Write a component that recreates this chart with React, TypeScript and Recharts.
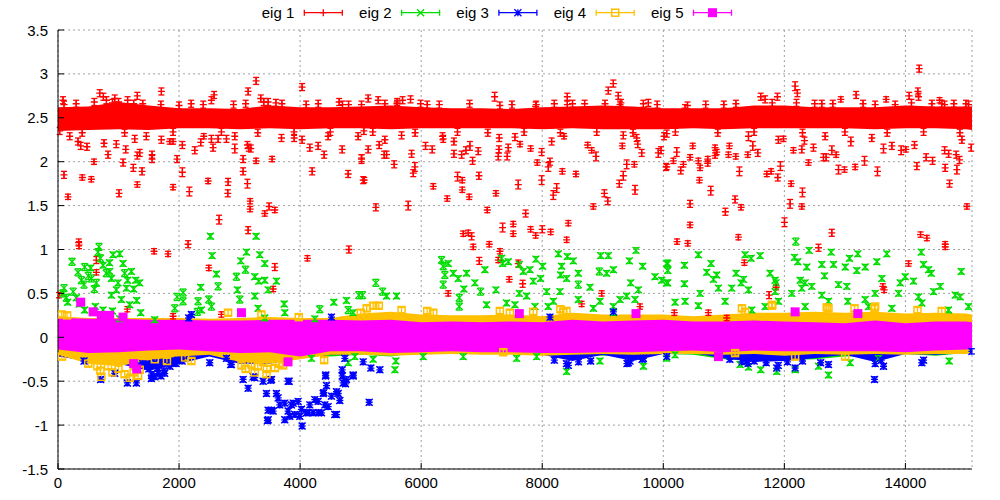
import React from 'react';
import { ComposedChart, Area, Scatter, ErrorBar, XAxis, YAxis, CartesianGrid } from 'recharts';

// ---------- axis ticks & names ----------
const xTicks = [0, 2000, 4000, 6000, 8000, 10000, 12000, 14000];
const yTicks = [-1.5, -1, -0.5, 0, 0.5, 1, 1.5, 2, 2.5, 3, 3.5];
const seriesNames = ['eig 1', 'eig 2', 'eig 3', 'eig 4', 'eig 5'];

// ---------- dense band envelopes ----------
const bandX = [0, 500, 1000, 1500, 2000, 2500, 3000, 3500, 4000, 4500, 5000, 5500, 6000, 6500, 7000, 7500, 8000, 8500, 9000, 9500, 10000, 10500, 11000, 11500, 12000, 12500, 13000, 13500, 14000, 14500, 15000, 15100];
const eig1Lo = [2.35, 2.36, 2.37, 2.36, 2.38, 2.38, 2.37, 2.38, 2.37, 2.38, 2.38, 2.37, 2.38, 2.38, 2.38, 2.38, 2.37, 2.38, 2.37, 2.37, 2.37, 2.38, 2.37, 2.38, 2.38, 2.38, 2.38, 2.37, 2.38, 2.38, 2.37, 2.36];
const eig1Hi = [2.62, 2.63, 2.68, 2.64, 2.61, 2.61, 2.60, 2.64, 2.62, 2.62, 2.63, 2.64, 2.62, 2.61, 2.61, 2.60, 2.62, 2.63, 2.64, 2.63, 2.61, 2.61, 2.61, 2.64, 2.64, 2.62, 2.62, 2.62, 2.64, 2.63, 2.63, 2.63];
const eig2Lo = [-0.17, -0.17, -0.17, -0.17, -0.18, -0.17, -0.17, -0.17, -0.20, -0.22, -0.20, -0.22, -0.17, -0.17, -0.18, -0.19, -0.18, -0.20, -0.21, -0.20, -0.19, -0.20, -0.25, -0.27, -0.26, -0.25, -0.22, -0.21, -0.19, -0.21, -0.18, -0.17];
const eig2Hi = [0.15, 0.15, 0.15, 0.15, 0.15, 0.15, 0.15, 0.15, 0.15, 0.15, 0.15, 0.15, 0.15, 0.15, 0.15, 0.15, 0.15, 0.15, 0.15, 0.15, 0.15, 0.15, 0.15, 0.15, 0.15, 0.15, 0.15, 0.15, 0.15, 0.15, 0.15, 0.15];
const eig3Lo = [-0.22, -0.27, -0.30, -0.38, -0.30, -0.22, -0.30, -0.30, -0.24, -0.20, -0.19, -0.19, -0.18, -0.18, -0.18, -0.19, -0.20, -0.27, -0.20, -0.27, -0.19, -0.18, -0.24, -0.28, -0.27, -0.24, -0.20, -0.28, -0.19, -0.20, -0.18, -0.17];
const eig3Hi = [0.10, 0.10, 0.10, 0.10, 0.10, 0.10, 0.10, 0.10, 0.10, 0.10, 0.10, 0.10, 0.10, 0.10, 0.10, 0.10, 0.10, 0.10, 0.10, 0.10, 0.10, 0.10, 0.10, 0.10, 0.10, 0.10, 0.10, 0.10, 0.10, 0.10, 0.10, 0.10];
const eig4Lo = [-0.20, -0.30, -0.33, -0.26, -0.22, -0.20, -0.28, -0.30, -0.25, -0.20, -0.20, -0.21, -0.20, -0.19, -0.20, -0.20, -0.21, -0.20, -0.19, -0.20, -0.19, -0.19, -0.20, -0.19, -0.21, -0.19, -0.20, -0.19, -0.20, -0.19, -0.19, -0.18];
const eig4Hi = [0.24, 0.22, 0.22, 0.22, 0.22, 0.21, 0.22, 0.23, 0.22, 0.22, 0.27, 0.29, 0.26, 0.25, 0.25, 0.26, 0.24, 0.28, 0.26, 0.26, 0.26, 0.24, 0.26, 0.28, 0.28, 0.29, 0.28, 0.29, 0.27, 0.28, 0.27, 0.26];
const eig5Lo = [-0.14, -0.18, -0.17, -0.15, -0.14, -0.16, -0.18, -0.17, -0.22, -0.16, -0.16, -0.18, -0.17, -0.16, -0.17, -0.17, -0.18, -0.18, -0.17, -0.17, -0.16, -0.15, -0.17, -0.15, -0.16, -0.16, -0.16, -0.16, -0.17, -0.15, -0.14, -0.14];
const eig5Hi = [0.22, 0.21, 0.21, 0.20, 0.20, 0.19, 0.19, 0.20, 0.20, 0.20, 0.19, 0.20, 0.17, 0.18, 0.17, 0.18, 0.17, 0.20, 0.18, 0.19, 0.20, 0.18, 0.18, 0.19, 0.18, 0.17, 0.16, 0.19, 0.16, 0.18, 0.18, 0.17];

// ---------- individual points [x, y, err] ----------
const eig1Pts = [
  [83, 2.70, .04], [600, 2.68, .04], [689, 2.78, .04], [750, 2.74, .04], [800, 2.70, .04], [937, 2.72, .04], [1000, 2.68, .04], [1150, 2.70, .04], [1250, 2.66, .04], [1311, 2.75, .04], [1708, 2.80, .04], [2535, 2.70, .04], [2579, 2.76, .04], [3141, 2.80, .04], [3273, 2.92, .04], [3350, 2.72, .04], [3400, 2.68, .04], [3471, 2.68, .04], [4033, 2.85, .04], [4645, 2.68, .04], [5014, 2.65, .04],
  [5125, 2.72, .04], [5290, 2.70, .04], [5604, 2.68, .04], [5692, 2.70, .04], [5824, 2.71, .04], [5990, 2.66, .04], [7213, 2.74, .05], [7891, 2.63, .05], [8414, 2.74, .04], [8414, 2.65, .04], [9037, 2.66, .04], [9092, 2.81, .04], [9175, 2.89, .04], [9257, 2.75, .04], [9285, 2.65, .04], [9671, 2.66, .04], [9753, 2.67, .04],
  [10360, 2.61, .04], [11610, 2.74, .04], [11682, 2.71, .04], [11886, 2.74, .04], [12178, 2.86, .05], [12216, 2.78, .04], [12619, 2.66, .04], [12933, 2.71, .03], [13186, 2.76, .04], [13682, 2.71, .03], [13831, 2.65, .04], [14062, 2.75, .04], [14206, 2.80, .04], [14217, 2.74, .04], [14228, 3.06, .04], [14437, 2.66, .04], [14564, 2.70, .03], [14647, 2.65, .04], [15043, 2.65, .04],
  [300, 2.66, .04], [1700, 2.65, .04], [2200, 2.66, .04], [2900, 2.65, .04], [3700, 2.66, .04], [4300, 2.66, .04], [4800, 2.65, .04], [5400, 2.66, .04], [6300, 2.65, .04], [6800, 2.66, .04], [7500, 2.65, .04], [8200, 2.66, .04], [8700, 2.66, .04], [9900, 2.65, .04], [10700, 2.65, .04], [11200, 2.66, .04], [12500, 2.66, .04], [13300, 2.66, .04], [14800, 2.66, .04],
  [100, 2.65, .04], [900, 2.67, .04], [1400, 2.66, .04], [2000, 2.64, .04], [2400, 2.65, .04], [3100, 2.66, .04], [3600, 2.67, .04], [4100, 2.65, .04], [4700, 2.65, .04], [5600, 2.66, .04], [6100, 2.65, .04], [7300, 2.64, .04], [7900, 2.65, .04], [8500, 2.66, .04], [9300, 2.67, .04], [10400, 2.64, .04], [11000, 2.65, .04], [11800, 2.67, .04], [12200, 2.67, .04], [12800, 2.66, .04], [13500, 2.65, .04], [14100, 2.67, .04], [14600, 2.66, .04], [15000, 2.66, .04],
  [400, 2.33, .04], [1100, 2.33, .04], [1900, 2.34, .04], [2700, 2.34, .04], [3300, 2.33, .04], [3900, 2.34, .04], [4500, 2.34, .04], [5200, 2.34, .04], [5900, 2.33, .04], [6600, 2.34, .04], [7100, 2.33, .04], [7700, 2.34, .04], [8300, 2.33, .04], [8900, 2.34, .04], [9500, 2.33, .04], [10200, 2.34, .04], [10900, 2.33, .04], [11500, 2.34, .04], [12300, 2.33, .04], [13000, 2.34, .04], [13700, 2.33, .04], [14300, 2.34, .04], [14900, 2.33, .04],
  [28, 2.35, .04], [193, 2.29, .04], [331, 2.23, .04], [375, 2.18, .04], [479, 2.17, .04], [760, 2.21, .04], [827, 2.08, .04], [595, 2.00, .03], [964, 2.20, .04], [1119, 2.14, .04], [1075, 1.99, .04], [1267, 2.26, .04], [1311, 2.07, .04], [1350, 2.10, .04], [1245, 1.93, .04], [1389, 1.89, .04], [1460, 2.29, .04], [1554, 2.08, .04], [1554, 2.03, .04], [1708, 2.25, .04], [1846, 2.23, .03], [1901, 2.23, .03], [1967, 2.03, .04], [2055, 2.19, .04], [2055, 1.88, .05], [2259, 2.13, .04], [2358, 2.22, .04], [2408, 2.29, .03], [2562, 2.16, .04], [2535, 2.26, .04], [2645, 2.26, .04], [2783, 2.26, .04], [2920, 2.15, .05], [2920, 2.29, .04], [3130, 2.19, .04], [3152, 2.16, .04], [3185, 2.15, .04], [3058, 2.03, .04], [3273, 2.01, .03], [3537, 2.03, .03], [3058, 1.89, .04], [3130, 1.75, .05], [2810, 1.77, .04], [2805, 1.64, .04], [2480, 1.78, .03], [2171, 1.66, .05], [1901, 1.71, .03], [1311, 1.74, .03], [1008, 1.64, .04], [551, 1.80, .03], [402, 1.82, .03], [99, 1.85, .04], [165, 1.60, .03], [3174, 1.55, .03], [3174, 1.46, .03], [3416, 1.41, .03], [3488, 1.49, .04], [3582, 1.45, .03], [2661, 1.34, .05], [3141, 1.22, .04], [342, 1.08, .04], [2149, 1.06, .04], [3692, 2.27, .04], [3901, 2.27, .04], [4033, 2.25, .04], [4160, 2.16, .04], [4298, 2.18, .04], [4397, 2.08, .04], [4199, 1.89, .04], [4695, 2.14, .04], [4794, 1.86, .04], [5014, 2.03, .05], [5042, 1.79, .04], [4959, 2.29, .04], [4463, 2.29, .04],
  [5053, 2.35, .04], [5125, 2.14, .04], [5015, 2.04, .04], [5307, 2.19, .04], [5400, 2.25, .04], [5389, 2.08, .04], [5428, 2.08, .04], [5676, 2.30, .04], [5554, 1.97, .04], [5841, 2.09, .04], [5896, 1.94, .05], [5869, 1.87, .04], [5059, 1.79, .03], [6072, 2.18, .04], [6183, 2.14, .04], [6353, 2.29, .04], [6364, 2.26, .04], [6199, 1.72, .03], [6541, 2.23, .04], [6541, 2.09, .04], [6668, 2.08, .04], [6739, 2.13, .04], [6805, 2.18, .05], [6943, 2.12, .04], [6849, 2.01, .04], [6601, 1.83, .05], [6679, 1.79, .03], [6679, 1.68, .03], [6794, 1.60, .03], [6431, 1.58, .03], [6954, 1.84, .04], [7290, 2.27, .04], [7285, 2.14, .04], [7274, 2.06, .04], [7439, 2.16, .04], [7422, 2.06, .04], [7549, 2.28, .04], [7632, 2.20, .03], [7808, 2.15, .03], [7918, 1.99, .03], [7990, 2.11, .04], [7990, 1.79, .05], [8100, 1.94, .05], [8128, 2.00, .04], [8155, 2.23, .04], [7604, 1.74, .05], [7235, 1.64, .03], [5251, 1.48, .04], [5786, 1.50, .05], [7092, 1.45, .03], [7725, 1.41, .04], [7345, 1.25, .05], [7521, 1.29, .03], [7521, 1.18, .03], [7808, 1.23, .03], [7891, 1.16, .03], [8001, 1.23, .04], [8139, 1.20, .03], [8431, 1.30, .03], [8403, 1.11, .03], [6695, 1.18, .03], [6778, 1.19, .03], [6833, 1.15, .04], [7125, 1.06, .03], [8238, 1.70, .05], [8183, 1.62, .05], [8332, 1.89, .03], [8557, 1.86, .03], [8750, 2.19, .03], [8816, 2.13, .03], [8888, 2.06, .05], [8359, 2.29, .03], [9323, 2.18, .03], [9340, 2.30, .04], [9560, 2.27, .04], [9577, 2.20, .04], [9643, 2.10, .04], [9395, 1.97, .05], [9522, 1.97, .03], [9340, 1.84, .05], [9274, 1.75, .04], [9533, 1.68, .05], [9027, 1.64, .04], [9082, 1.55, .04], [8844, 1.49, .03], [9918, 2.10, .05], [9962, 2.13, .04], [10045, 1.94, .04], [10012, 2.29, .04],
  [10057, 2.32, .04], [10057, 1.94, .03], [10167, 2.01, .03], [10222, 2.11, .05], [10288, 1.90, .04], [10332, 1.97, .03], [10442, 2.05, .03], [10442, 1.52, .04], [10442, 1.28, .03], [10486, 2.18, .03], [10580, 2.01, .03], [10608, 1.93, .03], [10597, 1.79, .03], [10734, 2.03, .03], [10734, 1.98, .03], [10784, 1.67, .05], [10855, 2.16, .03], [10883, 2.11, .03], [10855, 2.07, .03], [11076, 2.08, .03], [11092, 2.18, .03], [11026, 1.43, .04], [11197, 2.06, .03], [11186, 1.57, .04], [11258, 1.89, .05], [11285, 1.48, .03], [11395, 2.08, .03], [11407, 2.29, .05], [11478, 2.18, .05], [11561, 2.10, .04], [11710, 1.86, .03], [11781, 1.89, .03], [11891, 1.82, .04], [11902, 2.25, .04], [11935, 1.95, .05], [11985, 2.26, .03], [12112, 1.75, .03], [12095, 1.52, .05], [12002, 1.31, .05], [12150, 2.13, .03], [12288, 2.14, .04], [12288, 1.49, .03], [12299, 1.65, .05], [12332, 2.24, .04], [12398, 1.99, .03], [12481, 2.16, .04], [12646, 2.05, .04], [12690, 2.05, .04], [12674, 2.29, .04], [12784, 2.13, .05], [12856, 2.08, .03], [12894, 1.91, .05], [12993, 1.91, .03], [13098, 2.23, .05], [13170, 1.94, .03], [13324, 2.01, .05], [13445, 2.27, .04], [13539, 1.89, .05], [13638, 2.15, .05], [13776, 2.18, .04], [13930, 2.13, .05], [14007, 2.14, .03], [14150, 2.19, .04], [14189, 1.95, .04], [14343, 2.05, .04], [14448, 2.01, .04], [14657, 1.93, .04], [14647, 2.13, .04], [14713, 2.09, .04], [14729, 1.75, .04], [14839, 2.08, .04], [14850, 1.91, .05], [14894, 2.02, .04], [14933, 2.25, .04], [15016, 1.49, .03], [15087, 2.16, .04], [12784, 1.19, .04], [11241, 1.14, .03], [10227, 1.09, .03], [10404, 1.07, .03], [14250, 1.17, .03], [14354, 1.13, .03], [14657, 1.06, .03],
  [347, 1.05, .04], [634, 0.88, .04], [634, 0.74, .03], [1587, 0.98, .03], [1818, 0.95, .03], [2491, 0.79, .03], [3582, 0.80, .04], [3554, 0.55, .03], [1146, 0.32, .03], [1901, 0.24, .03], [2700, 0.26, .03], [17, 0.48, .03], [4121, 0.90, .03], [4805, 1.00, .04], [6860, 1.03, .03], [6960, 0.87, .04], [7301, 0.98, .03], [7274, 0.88, .03], [7604, 0.84, .04], [7676, 0.61, .04], [7455, 0.66, .03], [6447, 0.50, .03], [8982, 0.50, .03], [8651, 0.38, .03], [9615, 0.35, .03], [12564, 1.02, .04], [11340, 0.85, .03], [11864, 0.57, .03], [11748, 0.48, .04], [10745, 0.28, .03], [11048, 0.22, .03], [10183, 0.28, .03], [14052, 0.84, .03], [13627, 0.58, .03], [13649, 0.54, .03], [14657, 1.03, .03],
];

const eig2Pts = [
  [2518, 1.15, .03], [3273, 1.15, .03], [678, 1.03, .04], [661, 0.97, .04], [909, 0.94, .03], [1019, 0.95, .03], [232, 0.86, .04], [441, 0.80, .04], [331, 0.74, .04], [386, 0.65, .04], [430, 0.60, .04], [540, 0.79, .03], [744, 0.82, .03], [799, 0.73, .04], [854, 0.75, .03], [882, 0.67, .03], [1075, 0.84, .03], [1102, 0.73, .04], [1212, 0.75, .03], [1284, 0.65, .03], [992, 0.62, .03], [964, 0.54, .03], [1130, 0.56, .03], [1350, 0.62, .03], [551, 0.67, .04], [634, 0.62, .04], [99, 0.56, .04], [138, 0.45, .04], [617, 0.35, .03], [882, 0.48, .03], [744, 0.31, .03], [1047, 0.43, .03], [1185, 0.37, .03], [303, 0.45, .03], [441, 0.31, .03], [1367, 0.28, .03], [1019, 0.21, .03], [1967, 0.46, .04], [1929, 0.33, .04], [2066, 0.51, .04], [2358, 0.57, .03], [2314, 0.41, .04], [2645, 0.58, .04], [2491, 0.43, .04], [2535, 0.35, .04], [2546, 0.93, .03], [2617, 0.72, .03], [2948, 0.69, .04], [2965, 0.54, .03], [3020, 0.87, .03], [3113, 0.97, .03], [3097, 0.77, .04], [3334, 0.94, .03], [3416, 0.84, .03], [3251, 0.69, .03], [3317, 0.64, .03], [3416, 0.65, .03], [3609, 0.64, .03], [3471, 0.54, .03], [3251, 0.47, .03], [3003, 0.43, .04], [3306, 0.33, .03], [3416, 0.22, .03], [3736, 0.38, .03], [3747, 0.28, .03], [2369, 0.31, .03], [4243, 0.21, .03], [4325, 0.32, .04], [4766, 0.42, .03], [4794, 0.31, .04], [4557, 0.40, .03], [4970, 0.48, .04], [4876, 0.28, .03], [2066, 0.41, .04], [1598, 0.20, .03], [2303, 0.29, .04],
  [80, 0.50, .04], [160, 0.40, .03], [250, 0.52, .04], [500, 0.70, .04], [700, 0.90, .04], [850, 0.85, .03], [1150, 0.65, .03], [1250, 0.55, .03], [600, 0.55, .04], [350, 0.38, .03], [900, 0.30, .03], [1300, 0.42, .03],
  [5031, 0.48, .04], [5251, 0.62, .04], [5362, 0.52, .04], [5428, 0.47, .03], [5593, 0.47, .03], [6337, 0.88, .04], [6364, 0.81, .04], [6447, 0.84, .03], [6392, 0.71, .04], [6364, 0.60, .04], [6530, 0.73, .03], [6612, 0.67, .03], [6750, 0.73, .03], [6888, 0.62, .03], [6706, 0.55, .03], [6629, 0.45, .04], [6629, 0.35, .04], [7053, 0.77, .03], [6981, 0.52, .04], [7081, 0.37, .03], [7235, 0.54, .03], [7329, 0.90, .03], [7345, 0.84, .03], [7439, 0.86, .03], [7621, 0.83, .03], [7687, 0.75, .03], [7797, 0.77, .03], [7742, 0.47, .03], [7896, 0.89, .03], [8006, 0.81, .03], [7852, 0.64, .03], [7973, 0.67, .03], [8073, 0.52, .03], [8183, 0.41, .03], [7621, 0.50, .03], [7411, 0.39, .03], [7549, 0.37, .03], [8266, 0.95, .03], [8320, 0.81, .03], [8304, 0.71, .03], [8414, 0.92, .03], [8513, 0.87, .03], [8596, 0.73, .03], [8596, 0.60, .04], [8403, 0.67, .03], [8293, 0.52, .03], [8789, 0.57, .03], [8965, 0.93, .03], [9092, 0.93, .03], [8943, 0.75, .04], [9064, 0.73, .03], [9175, 0.77, .03], [9439, 0.87, .03], [9549, 0.99, .03], [9659, 0.81, .03], [9863, 0.69, .03], [9974, 0.65, .03], [10056, 0.84, .03], [10056, 0.62, .03], [9461, 0.62, .03], [9588, 0.54, .03], [9395, 0.47, .03], [9533, 0.43, .03], [8954, 0.41, .03], [8844, 0.33, .03], [9175, 0.35, .03], [9285, 0.43, .03], [9175, 0.28, .03], [8596, 0.43, .03], [8100, 0.35, .03], [7880, 0.35, .03],
  [12189, 1.09, .04], [12409, 0.99, .03], [12773, 0.97, .03], [13214, 0.95, .03], [13076, 0.90, .03], [13693, 0.95, .03], [13528, 0.86, .03], [14261, 0.97, .03], [10580, 0.94, .03], [10073, 0.84, .04], [10073, 0.76, .03], [10073, 0.62, .03], [10349, 0.82, .03], [10789, 0.84, .03], [10718, 0.74, .03], [10883, 0.71, .03], [10828, 0.66, .03], [10349, 0.61, .03], [11203, 0.73, .03], [11351, 0.94, .03], [11450, 0.90, .03], [11599, 0.93, .03], [11324, 0.66, .03], [11285, 0.62, .03], [11764, 0.73, .03], [12167, 0.91, .03], [12222, 0.86, .03], [12371, 0.80, .03], [12619, 0.83, .03], [12812, 0.83, .03], [13005, 0.80, .03], [13197, 0.76, .03], [13335, 0.80, .03], [12663, 0.70, .03], [12261, 0.65, .03], [12343, 0.62, .03], [12453, 0.58, .03], [11863, 0.62, .03], [11847, 0.65, .03], [12894, 0.60, .03], [13032, 0.58, .03], [13611, 0.67, .03], [13914, 0.62, .03], [13996, 0.69, .03], [14134, 0.64, .03], [14299, 0.83, .03], [14382, 0.77, .03], [14426, 0.73, .03], [14922, 0.75, .03], [14575, 0.58, .03], [14465, 0.52, .03], [14823, 0.48, .03], [15043, 0.35, .03], [14905, 0.46, .03], [14217, 0.46, .03], [13886, 0.50, .03], [13500, 0.50, .03], [13335, 0.43, .03], [13049, 0.41, .03], [12619, 0.48, .03], [12288, 0.56, .03], [12123, 0.50, .03], [11847, 0.52, .03], [11407, 0.54, .03], [11131, 0.56, .03], [10911, 0.56, .03], [10608, 0.50, .03], [10360, 0.41, .03], [10194, 0.40, .03], [10580, 0.36, .03], [11021, 0.41, .03], [11462, 0.31, .03], [11902, 0.41, .03], [11682, 0.35, .03], [12343, 0.35, .03], [12729, 0.41, .03], [13390, 0.35, .03], [13776, 0.33, .03], [14272, 0.39, .03], [14712, 0.31, .03],
  [5566, -0.37, .03], [5582, -0.27, .03], [5207, -0.25, .03], [7577, -0.24, .03], [7907, -0.22, .03], [8403, -0.39, .03], [9671, -0.33, .03], [8954, -0.27, .03], [6695, -0.22, .03], [6034, -0.22, .03], [10056, -0.24, .03], [12729, -0.43, .03], [11610, -0.37, .03], [11407, -0.34, .03], [11269, -0.31, .03], [12564, -0.33, .03], [12178, -0.37, .03], [14723, -0.27, .03], [10194, -0.20, .03], [11875, -0.39, .03], [13087, -0.29, .03], [13555, -0.24, .03], [4188, -0.24, .03], [4794, -0.29, .03], [4904, -0.22, .03],
];

const eig3Pts = [
  [430, -0.27, .03], [705, -0.48, .03], [937, -0.41, .03], [1146, -0.52, .03], [1295, -0.52, .03], [1543, -0.47, .03], [1653, -0.41, .03], [1763, -0.41, .03], [1488, -0.33, .03], [1598, -0.29, .03], [1873, -0.29, .03], [1984, -0.26, .03], [2507, -0.29, .03], [2854, -0.31, .03], [3058, -0.48, .03], [3141, -0.58, .03], [3251, -0.46, .03], [3389, -0.50, .03], [3515, -0.49, .03], [3802, -0.50, .03], [3609, -0.64, .03], [3471, -0.83, .03], [3554, -0.84, .03], [3460, -0.95, .03], [3747, -0.75, .03], [3857, -0.77, .03], [3747, -0.94, .03], [3802, -0.84, .03], [3912, -0.88, .03], [4033, -1.01, .03], [4022, -0.82, .03], [4133, -0.86, .03], [4243, -0.71, .03], [4353, -0.86, .03], [4463, -0.79, .03], [4381, -0.64, .03], [4436, -0.55, .03], [4629, -0.64, .03], [4656, -0.72, .03], [4573, -0.88, .03], [4695, -0.44, .03], [4750, -0.53, .03], [4876, -0.44, .03], [4419, -0.44, .03], [4695, -0.37, .03], [4518, 0.23, .03], [2204, 0.26, .03], [2160, 0.22, .03], [5042, -0.28, .03], [4739, -0.24, .03],
  [2783, -0.24, .03], [2865, -0.31, .03], [3224, -0.45, .03], [3527, -0.48, .03], [3637, -0.69, .03], [3527, -0.83, .03], [3664, -0.77, .03], [3472, -0.94, .03], [3885, -0.75, .03], [3830, -0.90, .03], [3995, -0.90, .03], [3967, -0.73, .03], [4105, -0.86, .03], [4215, -0.86, .03], [4298, -0.86, .03], [4160, -0.77, .03], [4298, -0.73, .03], [4408, -0.77, .03], [4601, -0.88, .03], [4518, -0.67, .03], [4601, -0.62, .03], [4392, -0.63, .03], [4425, -0.43, .03], [4711, -0.52, .03], [4766, -0.48, .03], [4876, -0.43, .03], [5141, -0.74, .03], [3819, -0.50, .03], [3444, -0.64, .03],
  [1400, -0.30, .03], [1500, -0.36, .03], [1550, -0.42, .03], [1650, -0.35, .03], [1750, -0.38, .03], [1850, -0.33, .03], [1950, -0.30, .03], [2050, -0.27, .03], [1600, -0.45, .03], [1700, -0.44, .03],
  [5169, -0.35, .03], [5318, -0.37, .03], [8128, 0.23, .03], [9175, 0.29, .03], [8431, -0.32, .03], [9423, -0.29, .03], [9671, -0.24, .03], [8200, -0.26, .03], [8400, -0.30, .03], [8600, -0.28, .03], [8800, -0.27, .03], [9400, -0.30, .03], [9450, -0.27, .03], [9650, -0.25, .03],
  [13489, -0.48, .03], [13638, -0.33, .03], [12178, -0.35, .03], [11875, -0.35, .03], [11379, -0.27, .03], [14272, -0.29, .03], [12729, -0.31, .03], [10057, -0.22, .03], [15098, -0.16, .03], [11100, -0.25, .03], [11300, -0.28, .03], [11400, -0.30, .03], [11500, -0.27, .03], [11700, -0.29, .03], [11900, -0.32, .03], [12050, -0.28, .03], [12300, -0.27, .03], [12600, -0.29, .03], [13500, -0.30, .03], [13600, -0.26, .03], [14300, -0.26, .03],
];

const eig4Pts = [
  [66, -0.22, .03], [650, -0.33, .03], [827, -0.33, .03], [716, -0.45, .03], [1185, -0.46, .03], [1323, -0.44, .03], [2204, -0.27, .03], [2810, 0.28, .03], [3031, -0.32, .03], [3196, -0.31, .03], [3389, -0.28, .03], [3444, -0.42, .03], [3582, -0.35, .03], [3719, -0.32, .03], [3978, 0.23, .03], [3361, 0.26, .03], [5003, 0.28, .03], [4397, -0.26, .03],
  [500, -0.30, .03], [700, -0.38, .03], [900, -0.40, .03], [1000, -0.36, .03], [1100, -0.42, .03], [1250, -0.40, .03], [1350, -0.37, .03], [3100, -0.36, .03], [3250, -0.40, .03], [3300, -0.33, .03], [3450, -0.36, .03], [3650, -0.30, .03], [1600, -0.25, .03], [1800, -0.27, .03], [2100, -0.23, .03],
  [5207, 0.36, .03], [5676, 0.31, .03], [6199, 0.28, .03], [7466, 0.28, .03], [7852, 0.29, .03], [8348, 0.29, .03], [7356, -0.17, .03], [5100, 0.33, .03], [5300, 0.36, .03], [6100, 0.30, .03], [7300, 0.30, .03], [8300, 0.32, .03], [8400, 0.30, .03],
  [11351, 0.29, .03], [11792, 0.36, .03], [12729, 0.33, .03], [13159, 0.33, .03], [13489, 0.33, .03], [13005, -0.22, .03], [11186, -0.18, .03], [12178, -0.22, .03], [11300, 0.33, .03], [11800, 0.37, .03], [12700, 0.34, .03], [13500, 0.35, .03], [14200, 0.31, .03], [14600, 0.30, .03], [60, 0.26, .03], [150, 0.25, .03],
];

const eig5Pts = [
  [375, 0.40, .03], [580, 0.29, .03], [716, 0.25, .03], [854, 0.25, .03], [1075, 0.23, .03], [3031, 0.28, .03], [7621, 0.27, .03], [9549, 0.27, .03], [12178, 0.29, .03], [13214, 0.27, .03], [10911, -0.22, .03], [3800, -0.28, .03], [1300, -0.36, .03], [1250, -0.30, .03],
];

// ---------- build tables ----------
const bandRows = bandX.map((x, i) => ({
  x,
  r1: [eig1Lo[i], eig1Hi[i]],
  r2: [eig2Lo[i], eig2Hi[i]],
  r3: [eig3Lo[i], eig3Hi[i]],
  r4: [eig4Lo[i], eig4Hi[i]],
  r5: [eig5Lo[i], eig5Hi[i]],
}));
const toObjs = (arr: number[][]) => arr.map(([x, y, e]) => ({ x, y, e }));

const COLORS = ['#ff0000', '#00dd00', '#0000ff', '#ffc000', '#ff00ff'];
const KINDS = ['plus', 'cross', 'star', 'box', 'fbox'];
const FONT = '"Liberation Sans", Arial, Helvetica, sans-serif';

function Glyph({ kind, cx, cy, color }: { kind: string; cx: number; cy: number; color: string }) {
  if (cx == null || cy == null || isNaN(cx) || isNaN(cy)) return null;
  const s = 3.5;
  const sw = 1.3;
  if (kind === 'plus') return <path d={`M${cx - s},${cy}H${cx + s}M${cx},${cy - s}V${cy + s}`} stroke={color} strokeWidth={sw} fill="none" />;
  if (kind === 'cross') return <path d={`M${cx - s},${cy - s}L${cx + s},${cy + s}M${cx - s},${cy + s}L${cx + s},${cy - s}`} stroke={color} strokeWidth={sw} fill="none" />;
  if (kind === 'star') return <path d={`M${cx - s},${cy}H${cx + s}M${cx},${cy - s}V${cy + s}M${cx - s},${cy - s}L${cx + s},${cy + s}M${cx - s},${cy + s}L${cx + s},${cy - s}`} stroke={color} strokeWidth={sw} fill="none" />;
  if (kind === 'box') return <rect x={cx - s} y={cy - s} width={2 * s} height={2 * s} stroke={color} strokeWidth={1.5} fill="none" />;
  return <rect x={cx - 4.5} y={cy - 4.5} width={9} height={9} fill={color} stroke="none" />;
}

const LeftTick = (p: any) => (
  <g>
    <text x={p.x} y={p.y} textAnchor="end" dominantBaseline="central" fontFamily={FONT} fontSize={15} fill="#000">{String(p.payload.value)}</text>
    <line x1={p.x + 10} x2={p.x + 16} y1={p.y} y2={p.y} stroke="#000" strokeWidth={1} />
  </g>
);
const BottomTick = (p: any) => (
  <g>
    <text x={p.x} y={p.y} textAnchor="middle" dominantBaseline="central" fontFamily={FONT} fontSize={15} fill="#000">{String(p.payload.value)}</text>
    <line x1={p.x} x2={p.x} y1={p.y - 13} y2={p.y - 19} stroke="#000" strokeWidth={1} />
  </g>
);
const TopTick = (p: any) => <line x1={p.x} x2={p.x} y1={p.y} y2={p.y + 6} stroke="#000" strokeWidth={1} />;
const RightTick = (p: any) => <line x1={p.x} x2={p.x - 6} y1={p.y} y2={p.y} stroke="#000" strokeWidth={1} />;

function KeyBox() {
  return (
    <svg width={1000} height={28} style={{ position: 'absolute', left: 0, top: 0, pointerEvents: 'none' }}>
      {seriesNames.map((name, i) => {
        const tr = 294.3 + 97.3 * i;
        const l = tr + 10;
        const r = tr + 48;
        const c = (l + r) / 2;
        const y = 12.7;
        return (
          <g key={name}>
            <text x={tr} y={y} textAnchor="end" dominantBaseline="central" fontFamily={FONT} fontSize={15} fill="#000">{name}</text>
            <path d={`M${l},${y}H${r}M${l},${y - 3}V${y + 3}M${r},${y - 3}V${y + 3}`} stroke={COLORS[i]} strokeWidth={1.3} fill="none" />
            <Glyph kind={KINDS[i]} cx={c} cy={y} color={COLORS[i]} />
          </g>
        );
      })}
    </svg>
  );
}

const pointSets = [eig1Pts, eig2Pts, eig3Pts, eig4Pts, eig5Pts];

export default function App() {
  const series: any[] = [];
  pointSets.forEach((pts, i) => {
    const color = COLORS[i];
    const kind = KINDS[i];
    series.push(
      <Area key={`a${i}`} dataKey={`r${i + 1}`} type="linear" stroke="none" fill={color} fillOpacity={1} isAnimationActive={false} dot={false} activeDot={false} legendType="none" />
    );
    series.push(
      <Scatter key={`s${i}`} name={seriesNames[i]} data={toObjs(pts)} dataKey="y" fill={color} isAnimationActive={false}
        shape={(p: any) => <Glyph kind={kind} cx={p.cx} cy={p.cy} color={color} />}>
        <ErrorBar dataKey="e" direction="y" width={3} stroke={color} strokeWidth={1.3} />
      </Scatter>
    );
  });
  return (
    <div style={{ position: 'absolute', left: 0, top: 0, width: 1000, height: 500, background: '#fff' }}>
      <ComposedChart width={1000} height={500} data={bandRows} margin={{ top: 30, right: 28, bottom: 0, left: 0 }}>
        <CartesianGrid stroke="#a0a0a0" strokeDasharray="2 3" strokeWidth={1} />
        <XAxis dataKey="x" type="number" domain={[0, 15100]} ticks={xTicks} interval={0} allowDataOverflow
          height={31} tickSize={0} tickMargin={13} tickLine={false} axisLine={{ stroke: '#000', strokeWidth: 1 }} tick={BottomTick} />
        <XAxis xAxisId="top" orientation="top" dataKey="x" type="number" domain={[0, 15100]} ticks={xTicks} interval={0} allowDataOverflow
          height={0} tickSize={0} tickMargin={0} tickLine={false} axisLine={{ stroke: '#000', strokeWidth: 1 }} tick={TopTick} />
        <YAxis type="number" domain={[-1.5, 3.5]} ticks={yTicks} interval={0} allowDataOverflow
          width={58} tickSize={0} tickMargin={10} tickLine={false} axisLine={{ stroke: '#000', strokeWidth: 1 }} tick={LeftTick} />
        <YAxis yAxisId="right" orientation="right" type="number" domain={[-1.5, 3.5]} ticks={yTicks} interval={0} allowDataOverflow
          width={0} tickSize={0} tickMargin={0} tickLine={false} axisLine={{ stroke: '#000', strokeWidth: 1 }} tick={RightTick} />
        {series}
      </ComposedChart>
      <KeyBox />
    </div>
  );
}
